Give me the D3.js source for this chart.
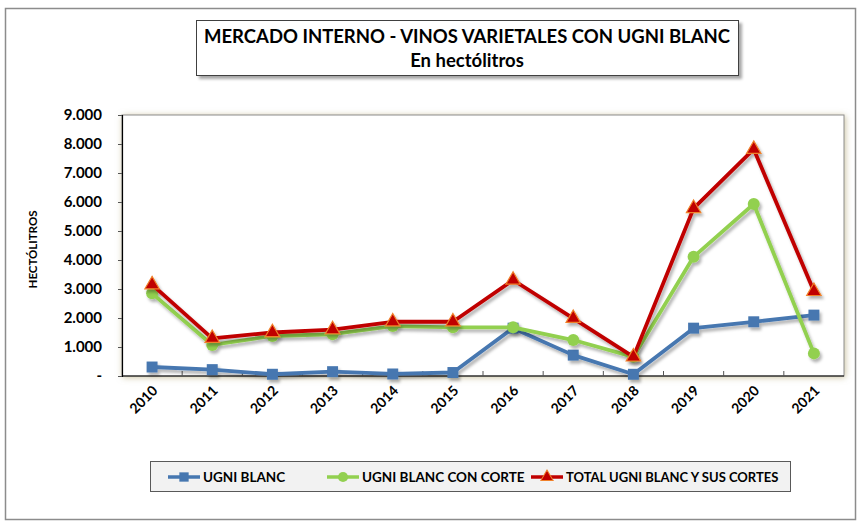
<!DOCTYPE html>
<html>
<head>
<meta charset="utf-8">
<script src="https://cdn.jsdelivr.net/npm/d3@7"></script>
<style>
  body { margin: 0; background: #fff; }
  svg { display: block; font-family: Lato, "Open Sans", sans-serif; }
</style>
</head>
<body>
<script>
// data
var years = ['2010', '2011', '2012', '2013', '2014', '2015', '2016', '2017', '2018', '2019', '2020', '2021'];
var ugniBlanc = [310, 220, 60, 150, 70, 120, 1650, 720, 60, 1650, 1870, 2100];
var ugniConCorte = [2850, 1070, 1380, 1440, 1720, 1680, 1680, 1240, 660, 4110, 5930, 780];
var totalUgni = [3150, 1300, 1500, 1600, 1870, 1870, 3310, 1990, 660, 5780, 7820, 2920];
var yTicks = [0, 1000, 2000, 3000, 4000, 5000, 6000, 7000, 8000, 9000];
var seriesNames = ['UGNI BLANC', 'UGNI BLANC CON CORTE', 'TOTAL UGNI BLANC Y SUS CORTES'];

var width = 859,
    height = 523;

var plot = {left: 122, top: 115, right: 844, bottom: 376};

var svg = d3.select('body').append('svg')
    .attr('width', width)
    .attr('height', height);

var defs = svg.append('defs');

var glow = defs.append('filter').attr('id', 'glow')
    .attr('x', '-10%').attr('y', '-10%').attr('width', '120%').attr('height', '120%');
glow.append('feDropShadow')
    .attr('dx', 1).attr('dy', 1).attr('stdDeviation', 3)
    .attr('flood-color', '#bdb38a').attr('flood-opacity', 0.8);

var lineShadow = defs.append('filter').attr('id', 'lshadow')
    .attr('x', '-10%').attr('y', '-20%').attr('width', '120%').attr('height', '140%');
lineShadow.append('feDropShadow')
    .attr('dx', 2).attr('dy', 3).attr('stdDeviation', 1.5)
    .attr('flood-color', '#000').attr('flood-opacity', 0.3);

var boxShadow = defs.append('filter').attr('id', 'bshadow')
    .attr('x', '-5%').attr('y', '-20%').attr('width', '110%').attr('height', '140%');
boxShadow.append('feDropShadow')
    .attr('dx', 3).attr('dy', 3).attr('stdDeviation', 1.5)
    .attr('flood-color', '#000').attr('flood-opacity', 0.35);

// outer frame
svg.append('rect')
    .attr('x', 5.5).attr('y', 8.5)
    .attr('width', width - 9).attr('height', height - 12)
    .attr('fill', '#fff')
    .attr('stroke', '#8c8c8c')
    .attr('stroke-width', 1.5);

// title box
svg.append('rect')
    .attr('x', 196.5).attr('y', 20.5)
    .attr('width', 542).attr('height', 55)
    .attr('fill', '#fff')
    .attr('stroke', '#404040')
    .attr('filter', 'url(#bshadow)');

svg.append('text')
    .attr('x', 467).attr('y', 43)
    .attr('text-anchor', 'middle')
    .style('font-size', '18.5px').style('font-weight', 'bold')
    .text('MERCADO INTERNO - VINOS VARIETALES CON UGNI BLANC');
svg.append('text')
    .attr('x', 467).attr('y', 67)
    .attr('text-anchor', 'middle')
    .style('font-size', '18.5px').style('font-weight', 'bold')
    .text('En hectólitros');

// plot area
svg.append('rect')
    .attr('x', plot.left).attr('y', plot.top)
    .attr('width', plot.right - plot.left).attr('height', plot.bottom - plot.top)
    .attr('fill', '#fff')
    .attr('stroke', '#8c8c8c')
    .attr('filter', 'url(#glow)');

var x = d3.scaleBand()
    .domain(years)
    .range([plot.left, plot.right]);

var y = d3.scaleLinear()
    .domain([0, 9000])
    .range([plot.bottom, plot.top]);

var fmt = function (d) {
    return d === 0 ? '-' : d3.format(',')(d).replace(',', '.');
};

// y axis
var yAxis = svg.append('g')
    .attr('transform', 'translate(' + plot.left + ',0)')
    .call(d3.axisLeft(y).tickValues(yTicks).tickSize(4).tickPadding(16).tickFormat(fmt));
yAxis.select('.domain').attr('stroke', '#000').attr('stroke-width', 1.2);
yAxis.selectAll('.tick line').attr('stroke', '#555');
yAxis.selectAll('text')
    .attr('fill', '#000')
    .style('font-size', '15px').style('font-weight', 'bold')
    .style('font-family', 'Lato, sans-serif');

// x axis, ticks between categories pointing inward
var xAxis = svg.append('g')
    .attr('transform', 'translate(0,' + plot.bottom + ')');
xAxis.append('line')
    .attr('x1', plot.left).attr('x2', plot.right)
    .attr('stroke', '#000').attr('stroke-width', 1.2);
xAxis.selectAll('line.tk').data(years.slice(1)).enter().append('line')
    .attr('class', 'tk')
    .attr('x1', function (d) { return x(d); })
    .attr('x2', function (d) { return x(d); })
    .attr('y1', 0).attr('y2', -5)
    .attr('stroke', '#555');
xAxis.selectAll('text').data(years).enter().append('text')
    .attr('transform', function (d) {
        return 'translate(' + (x(d) + x.bandwidth() / 2 + 3) + ',12) rotate(-45)';
    })
    .attr('text-anchor', 'end')
    .attr('dy', '0.35em')
    .style('font-size', '14px').style('font-weight', 'bold')
    .text(function (d) { return d; });

// y axis title
svg.append('text')
    .attr('transform', 'translate(37,' + ((plot.top + plot.bottom) / 2 + 4) + ') rotate(-90)')
    .attr('text-anchor', 'middle')
    .style('font-size', '11.5px').style('font-weight', 'bold')
    .text('HECTÓLITROS');

var series = [
    {name: seriesNames[0], values: ugniBlanc, color: '#4677b0', marker: 'square'},
    {name: seriesNames[1], values: ugniConCorte, color: '#92d050', marker: 'circle'},
    {name: seriesNames[2], values: totalUgni, color: '#c00000', marker: 'triangle'}
];

var cx = function (d, i) { return x(years[i]) + x.bandwidth() / 2; };

var line = d3.line()
    .x(cx)
    .y(function (d) { return y(d); });

function drawMarker(sel, type, color) {
    if (type === 'square') {
        sel.append('path')
            .attr('d', d3.symbol(d3.symbolSquare, 120)())
            .attr('fill', color);
    } else if (type === 'circle') {
        sel.append('circle')
            .attr('r', 6)
            .attr('fill', color);
    } else {
        sel.append('path')
            .attr('d', d3.symbol(d3.symbolTriangle, 90)())
            .attr('fill', '#c00000')
            .attr('stroke', '#f0812a')
            .attr('stroke-width', 1.2);
    }
}

series.forEach(function (s) {
    var g = svg.append('g').attr('filter', 'url(#lshadow)');
    g.append('path')
        .datum(s.values)
        .attr('d', line)
        .attr('fill', 'none')
        .attr('stroke', s.color)
        .attr('stroke-width', 3.8)
        .attr('stroke-linejoin', 'round');
    g.selectAll('g.m').data(s.values).enter().append('g')
        .attr('class', 'm')
        .attr('transform', function (d, i) { return 'translate(' + cx(d, i) + ',' + y(d) + ')'; })
        .each(function () { drawMarker(d3.select(this), s.marker, s.color); });
});

// legend
svg.append('rect')
    .attr('x', 150.5).attr('y', 461.5)
    .attr('width', 640).attr('height', 30)
    .attr('fill', '#f2f2f2')
    .attr('stroke', '#595959');

var legendX = [168, 327, 531];
series.forEach(function (s, i) {
    var g = svg.append('g').attr('transform', 'translate(' + legendX[i] + ',477)');
    g.append('line')
        .attr('x1', 0).attr('x2', 32)
        .attr('stroke', s.color).attr('stroke-width', 3.5);
    var m = g.append('g').attr('transform', 'translate(16,0) scale(0.85)');
    drawMarker(m, s.marker, s.color);
    g.append('text')
        .attr('x', 35).attr('dy', '0.35em')
        .style('font-size', i === 2 ? '13px' : '13.5px').style('font-weight', 'bold')
        .text(s.name);
});
</script>
</body>
</html>
